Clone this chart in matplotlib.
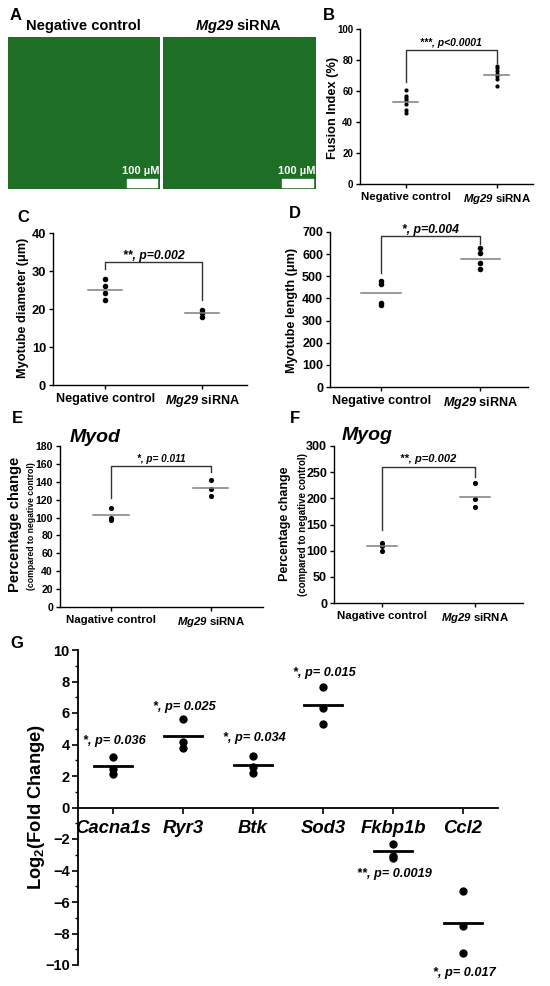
import matplotlib
matplotlib.use('Agg')

import numpy as np
import matplotlib.pyplot as plt
from matplotlib.patches import Rectangle
from matplotlib.ticker import MultipleLocator

plt.rcParams['font.family'] = ['Liberation Sans', 'DejaVu Sans']
plt.rcParams['font.weight'] = 'bold'
plt.rcParams['mathtext.fontset'] = 'custom'
plt.rcParams['mathtext.it'] = 'Liberation Sans:italic:bold'
plt.rcParams['mathtext.rm'] = 'Liberation Sans:bold'
# \mathbf is used for the gene name "Mg29" so digits are slanted too
plt.rcParams['mathtext.bf'] = 'Liberation Sans:italic:bold'

W, H = 550, 986

# data
groups = ['Negative control', r'$\mathbf{Mg29}$ siRNA']
groups_ef = ['Nagative control', r'$\mathbf{Mg29}$ siRNA']

fusion_nc = [60.5, 56.5, 55.5, 54.0, 51.5, 47.5, 45.5]
fusion_si = [76.0, 75.0, 73.0, 71.0, 69.5, 68.0, 63.3]
fusion_mean = [52.8, 70.0]

diam_nc = [27.8, 26.0, 24.1, 22.5]
diam_si = [19.7, 19.0, 18.0]
diam_mean = [25.0, 19.0]

length_nc = [480, 465, 381, 370]
length_si = [628, 603, 561, 531]
length_mean = [426, 580]

myod_nc = [111, 99.7, 97]
myod_si = [142, 132, 124]
myod_mean = [102.7, 132.6]

myog_nc = [115.6, 109, 100]
myog_si = [229, 198, 184]
myog_mean = [108, 203]

genes = ['Cacna1s', 'Ryr3', 'Btk', 'Sod3', 'Fkbp1b', 'Ccl2']
gene_vals = [[3.2, 2.46, 2.15],
             [5.62, 4.15, 3.77],
             [3.3, 2.57, 2.19],
             [7.66, 6.3, 5.33],
             [-2.3, -3.1, -3.2],
             [-5.28, -7.55, -9.26]]
gene_means = [2.63, 4.53, 2.67, 6.49, -2.77, -7.34]
gene_p = ['*, p= 0.036', '*, p= 0.025', '*, p= 0.034',
          '*, p= 0.015', '**, p= 0.0019', '*, p= 0.017']
gene_p_y = [4.2, 6.4, 4.4, 8.55, -4.25, -10.5]

BI = dict(fontweight='bold', fontstyle='italic')

fig = plt.figure(figsize=(W / 100, H / 100), dpi=100)


def add_ax(l, t, r, b):
    return fig.add_axes([l / W, 1 - b / H, (r - l) / W, (b - t) / H])


def ftext(x, y, s, **kw):
    fig.text(x / W, 1 - y / H, s, **kw)


def dot_panel(ax, nc, si, means, labels, xlim, ylim, step, half, ms,
              bracket, ptext, psize, xsize, ysize):
    ax.plot([1] * len(nc), nc, 'o', color='black', ms=ms, mec='none')
    ax.plot([2] * len(si), si, 'o', color='black', ms=ms, mec='none')
    for i, m in enumerate(means):
        ax.plot([i + 1 - half, i + 1 + half], [m, m], color='#7f7f7f', lw=1.1)
    top, lleg, rleg, ty = bracket
    ax.plot([1, 1, 2, 2], [lleg, top, top, rleg], color='#333333', lw=1)
    ax.text(1.5, ty, ptext, ha='center', va='center', fontsize=psize, **BI)
    ax.set_xlim(*xlim)
    ax.set_ylim(*ylim)
    ax.set_xticks([1, 2])
    ax.set_xticklabels(labels)
    ax.yaxis.set_major_locator(MultipleLocator(step))
    ax.spines['top'].set_visible(False)
    ax.spines['right'].set_visible(False)
    for s in ['left', 'bottom']:
        ax.spines[s].set_linewidth(1)
    ax.tick_params(direction='out', length=3, width=1, pad=2)
    ax.tick_params(axis='y', labelsize=ysize)
    ax.tick_params(axis='x', labelsize=xsize, pad=3)
    for lab in ax.get_xticklabels() + ax.get_yticklabels():
        lab.set_fontweight('bold')


# ---- A: micrograph panels (flat placeholders) ----
for (l, r), title, tx in [((8, 160), 'Negative control', 83),
                          ((163, 316), r'$\mathbf{Mg29}$ siRNA', 238)]:
    a = add_ax(l, 37, r, 189)
    a.set_facecolor('#1f6e26')
    a.set_xticks([])
    a.set_yticks([])
    for s in a.spines.values():
        s.set_visible(False)
    a.add_patch(Rectangle((0.78, 0.01), 0.2, 0.055, transform=a.transAxes,
                          color='white'))
    a.text(0.875, 0.12, '100 µM', transform=a.transAxes, color='white',
           ha='center', va='center', fontsize=8, fontweight='bold')
    ftext(tx, 26, title, ha='center', va='center', fontsize=10.5,
          fontweight='bold')

# ---- B ----
axB = add_ax(360, 29, 533, 184)
dot_panel(axB, fusion_nc, fusion_si, fusion_mean, groups, (0.5, 2.4),
          (0, 100), 20, 0.14, 3, (86.5, 66, 78, 91), '***, p<0.0001',
          7.5, 8.2, 7)
ftext(333, 108, 'Fusion Index (%)', rotation=90, ha='center', va='center',
      fontsize=9.2, fontweight='bold')

# ---- C ----
axC = add_ax(53, 233, 247, 385)
dot_panel(axC, diam_nc, diam_si, diam_mean, groups, (0.46, 2.46),
          (0, 40), 10, 0.175, 4, (32.4, 30.4, 22.5, 34), '**, p=0.002',
          8.8, 9.1, 9.3)
ftext(23, 308, 'Myotube diameter (μm)', rotation=90, ha='center',
      va='center', fontsize=9.2, fontweight='bold')

# ---- D ----
axD = add_ax(330, 232, 528, 387)
dot_panel(axD, length_nc, length_si, length_mean, groups, (0.485, 2.48),
          (0, 700), 100, 0.2, 4, (681, 513, 648, 711), '*, p=0.004',
          8.8, 9.1, 9)
ftext(292, 310, 'Myotube length (μm)', rotation=90, ha='center',
      va='center', fontsize=9.2, fontweight='bold')

# ---- E ----
axE = add_ax(60, 446, 263, 607)
dot_panel(axE, myod_nc, myod_si, myod_mean, groups_ef, (0.49, 2.52),
          (0, 180), 20, 0.175, 3.7, (157.6, 122, 151, 165), '*, p= 0.011',
          7.2, 8.2, 7.6)
ftext(95, 437, 'Myod', ha='center', va='center', fontsize=14, **BI)
ftext(15, 524, 'Percentage change', rotation=90, ha='center', va='center',
      fontsize=10.6, fontweight='bold')
ftext(32, 526, '(compared to negative control)', rotation=90, ha='center',
      va='center', fontsize=6.2, fontweight='bold')

# ---- F ----
axF = add_ax(334, 446, 523, 603)
dot_panel(axF, myog_nc, myog_si, myog_mean, groups_ef, (0.484, 2.516),
          (0, 300), 50, 0.16, 3.7, (260.6, 140, 241.5, 275), '**, p=0.002',
          8, 8.2, 9)
ftext(367, 435, 'Myog', ha='center', va='center', fontsize=14, **BI)
ftext(285, 524, 'Percentage change', rotation=90, ha='center', va='center',
      fontsize=9, fontweight='bold')
ftext(303, 524, '(compared to negative control)', rotation=90, ha='center',
      va='center', fontsize=7, fontweight='bold')

# ---- G ----
axG = add_ax(78, 650, 498, 965)
xg = np.arange(1, len(genes) + 1)
for x, vals, m, p, py in zip(xg, gene_vals, gene_means, gene_p, gene_p_y):
    axG.plot([x] * len(vals), vals, 'o', color='black', ms=6, mec='none')
    axG.plot([x - 0.27, x + 0.27], [m, m], color='black', lw=2)
    axG.text(x + 0.02, py, p, ha='center', va='center', fontsize=9.2, **BI)
axG.set_xlim(0.5, 6.5)
axG.set_ylim(-10, 10)
axG.set_xticks(xg)
axG.set_xticklabels(genes)
axG.yaxis.set_major_locator(MultipleLocator(2))
axG.yaxis.set_minor_locator(MultipleLocator(1))
axG.spines['top'].set_visible(False)
axG.spines['right'].set_visible(False)
axG.spines['bottom'].set_position(('data', 0))
axG.spines['bottom'].set_linewidth(1.3)
axG.spines['left'].set_linewidth(1.3)
axG.tick_params(axis='y', which='major', direction='out', length=4,
                width=1.2, labelsize=10.5, pad=2)
axG.tick_params(axis='y', which='minor', direction='out', length=2.5,
                width=1)
axG.tick_params(axis='x', direction='out', length=4, width=1.2, pad=5,
                labelsize=13.3)
for lab in axG.get_yticklabels():
    lab.set_fontweight('bold')
for lab in axG.get_xticklabels():
    lab.set_fontweight('bold')
    lab.set_fontstyle('italic')
ftext(37, 807, 'Log$_2$(Fold Change)', rotation=90, ha='center',
      va='center', fontsize=13.2, fontweight='bold')

# panel letters
for s, x, y in [('A', 16, 16), ('B', 329, 15), ('C', 23, 218),
                ('D', 295, 214), ('E', 17, 418), ('F', 295, 418),
                ('G', 17, 643)]:
    ftext(x, y, s, ha='center', va='center', fontsize=12, fontweight='bold')

fig.savefig('out.png', dpi=100)
